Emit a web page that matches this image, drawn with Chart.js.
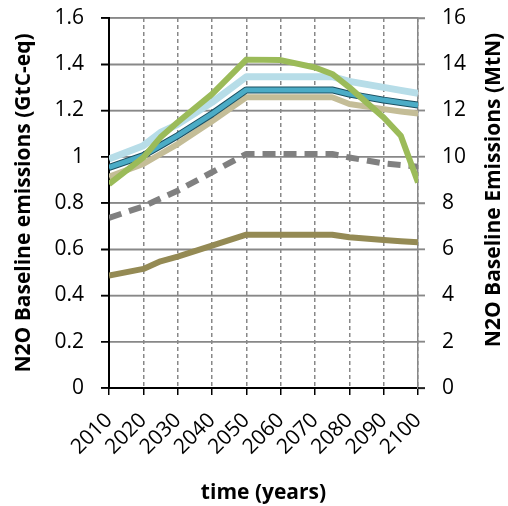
<!DOCTYPE html>
<html>
<head>
<meta charset="utf-8">
<script src="https://cdn.jsdelivr.net/npm/chart.js@4.4.1/dist/chart.umd.min.js"></script>
<style>
  html, body { margin: 0; padding: 0; background: #fff; }
</style>
</head>
<body>
<canvas id="chart" width="508" height="506"></canvas>
<script>
// years (kinks sit on 5-year steps)
const years = [2010, 2020, 2025, 2030, 2040, 2050, 2060, 2070, 2075, 2080, 2090, 2095, 2100];

const greenSeries = [0.882, 0.997, 1.084, 1.149, 1.271, 1.42, 1.418, 1.386, 1.358, 1.30, 1.17, 1.091, 0.889];
const lightBlueSeries = [0.99, 1.048, 1.105, 1.14, 1.235, 1.346, 1.346, 1.346, 1.346, 1.326, 1.30, 1.287, 1.274];
const tealSeries = [0.954, 1.005, 1.048, 1.091, 1.185, 1.289, 1.289, 1.289, 1.289, 1.271, 1.245, 1.234, 1.224];
const tanSeries = [0.914, 0.969, 1.012, 1.055, 1.153, 1.257, 1.257, 1.257, 1.257, 1.228, 1.206, 1.196, 1.187];
const greySeries = [0.736, 0.785, 0.82, 0.853, 0.933, 1.012, 1.012, 1.012, 1.012, 0.997, 0.971, 0.964, 0.957];
const oliveSeries = [0.486, 0.515, 0.548, 0.568, 0.616, 0.663, 0.663, 0.663, 0.663, 0.652, 0.64, 0.635, 0.63];

const leftTickValues = [0, 0.2, 0.4, 0.6, 0.8, 1, 1.2, 1.4, 1.6];
const leftTickLabels = ['0', '0.2', '0.4', '0.6', '0.8', '1', '1.2', '1.4', '1.6'];
const rightTickValues = [0, 2, 4, 6, 8, 10, 12, 14, 16];
const rightTickLabels = ['0', '2', '4', '6', '8', '10', '12', '14', '16'];

const leftTitle = 'N2O Baseline emissions (GtC-eq)';
const rightTitle = 'N2O Baseline Emissions (MtN)';
const xTitle = 'time (years)';

const FONT = '"Open Sans", sans-serif';

const toPoints = arr => years.map((x, i) => ({ x: x, y: arr[i] }));

// pixel of a value on a vertical scale; if the scale answers outside the plot box, map it on the box
const yPixel = (scale, v, a, lo, hi) => {
  const p = scale.getPixelForValue(v);
  if (isFinite(p) && p >= a.top - 2 && p <= a.bottom + 2) return p;
  return a.bottom - (v - lo) / (hi - lo) * (a.bottom - a.top);
};

// horizontal grid painted under everything, side tick marks, and the right title
const afterPlugin = {
  id: 'afterBits',
  afterDraw(chart) {
    const ctx = chart.ctx;
    const a = chart.chartArea;
    const y = chart.scales.y;
    const y2 = chart.scales.y2;
    const lo = leftTickValues[0];
    const hi = leftTickValues[leftTickValues.length - 1];
    const lo2 = rightTickValues[0];
    const hi2 = rightTickValues[rightTickValues.length - 1];

    ctx.save();
    ctx.setLineDash([]);
    ctx.shadowColor = 'rgba(0,0,0,0)';
    ctx.lineWidth = 1.5;
    ctx.globalAlpha = 1;
    ctx.globalCompositeOperation = 'destination-over';
    ctx.strokeStyle = '#888';
    leftTickValues.forEach(v => {
      const py = yPixel(y, v, a, lo, hi);
      ctx.beginPath();
      ctx.moveTo(a.left + 1, py);
      ctx.lineTo(a.right, py);
      ctx.stroke();
    });
    ctx.globalCompositeOperation = 'source-over';
    ctx.strokeStyle = '#000';
    leftTickValues.forEach(v => {
      const py = yPixel(y, v, a, lo, hi);
      ctx.beginPath();
      ctx.moveTo(a.left - 8, py);
      ctx.lineTo(a.left, py);
      ctx.stroke();
    });
    rightTickValues.forEach(v => {
      const py = yPixel(y2, v, a, lo2, hi2);
      ctx.strokeStyle = v === 0 ? '#000' : '#888';
      ctx.beginPath();
      ctx.moveTo(a.right, py);
      ctx.lineTo(a.right + 7, py);
      ctx.stroke();
    });
    ctx.restore();

    // right title reads bottom-to-top, same as the left one
    ctx.save();
    ctx.translate(494, 190);
    ctx.rotate(-Math.PI / 2);
    ctx.font = 'bold 21px ' + FONT;
    ctx.fillStyle = '#000';
    ctx.textAlign = 'center';
    ctx.textBaseline = 'middle';
    ctx.fillText(rightTitle, 0, 0);
    ctx.restore();
  }
};

const line = (label, arr, color, width, extra) => Object.assign({
  label: label,
  data: toPoints(arr),
  borderColor: color,
  backgroundColor: color,
  borderWidth: width,
  pointRadius: 0,
  tension: 0,
  fill: false,
  borderJoinStyle: 'round',
  yAxisID: 'y'
}, extra || {});

// tick labels overhang the ends; keep the plot box where the picture has it
const noOverhang = s => { s.paddingTop = 0; s.paddingBottom = 0; };

new Chart(document.getElementById('chart'), {
  type: 'line',
  data: {
    datasets: [
      line('green', greenSeries, '#9bbb59', 6),
      line('olive', oliveSeries, '#948a54', 6),
      line('grey', greySeries, '#808080', 6, { borderDash: [13, 8] }),
      line('teal', tealSeries, '#4bacc6', 5),
      line('tealEdge', tealSeries, '#1d5061', 7),
      line('tan', tanSeries, '#c4bd97', 6),
      line('lightblue', lightBlueSeries, '#b7dde8', 7)
    ]
  },
  options: {
    responsive: false,
    animation: false,
    devicePixelRatio: 1,
    layout: { padding: { top: 18 } },
    plugins: {
      legend: { display: false },
      tooltip: { enabled: false }
    },
    scales: {
      x: {
        type: 'linear',
        min: 2010,
        max: 2100,
        ticks: {
          stepSize: 10,
          autoSkip: false,
          minRotation: 45,
          maxRotation: 45,
          padding: 13,
          color: '#000',
          font: { family: FONT, size: 21 },
          callback: v => String(v)
        },
        grid: { color: '#888', lineWidth: 1.5, tickColor: '#000', tickLength: 7, tickWidth: 1.5 },
        border: { color: '#000', width: 2, dash: [4, 3] },
        title: {
          display: true,
          text: xTitle,
          color: '#000',
          font: { family: FONT, size: 21, weight: 'bold' },
          padding: { top: 0, bottom: 0 }
        },
        afterFit: s => { s.height = 118; s.paddingLeft = 0; s.paddingRight = 0; }
      },
      y: {
        position: 'left',
        min: 0,
        max: 1.6,
        ticks: {
          stepSize: 0.2,
          padding: 17,
          color: '#000',
          font: { family: FONT, size: 21 },
          callback: (v, i) => leftTickLabels[i]
        },
        grid: { color: '#888', lineWidth: 1.5, tickColor: '#000', tickLength: 8, tickWidth: 1.5 },
        border: { color: '#000', width: 2 },
        title: {
          display: true,
          text: leftTitle,
          color: '#000',
          font: { family: FONT, size: 21, weight: 'bold' },
          padding: { top: 11, bottom: 0 }
        },
        afterFit: s => { s.width = 109; noOverhang(s); }
      },
      y2: {
        position: 'right',
        min: 0,
        max: 16,
        ticks: {
          stepSize: 2,
          padding: 17,
          color: '#000',
          font: { family: FONT, size: 21 },
          callback: (v, i) => rightTickLabels[i]
        },
        grid: { drawOnChartArea: false, tickColor: '#888', tickLength: 7, tickWidth: 1.5 },
        border: { color: '#888', width: 1.5 },
        afterFit: s => { s.width = 90; noOverhang(s); }
      }
    }
  },
  plugins: [afterPlugin]
});
</script>
</body>
</html>
